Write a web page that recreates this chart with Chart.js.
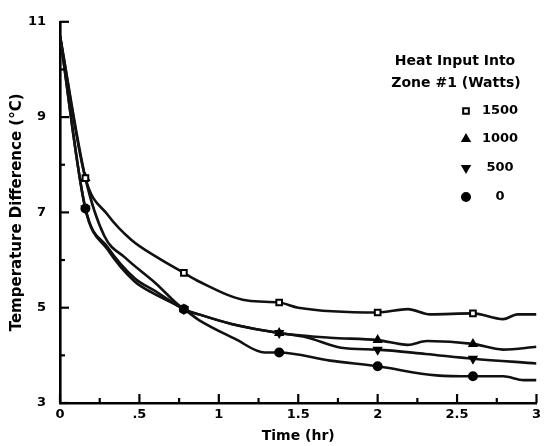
<!DOCTYPE html>
<html>
<head>
<meta charset="utf-8">
<script src="https://cdn.jsdelivr.net/npm/chart.js@4/dist/chart.umd.min.js"></script>
<style>
html,body{margin:0;padding:0;background:#fff;}
#wrap{width:545px;height:446px;position:relative;}
</style>
</head>
<body>
<div id="wrap"><canvas id="c" width="545" height="446"></canvas></div>
<script>
// ---- data ----
const seriesLabels = ['1500', '1000', '500', '0'];
const legendTitle = ['Heat Input Into', 'Zone #1 (Watts)'];
const xTitle = 'Time (hr)';
const yTitle = 'Temperature Difference (\u00B0C)';

const times1500 = [0, 0.16, 0.3, 0.45, 0.61, 0.78, 0.875, 1.18, 1.38, 1.5, 2.0, 2.19, 2.33, 2.6, 2.79, 2.88, 3.0];
const temps1500 = [10.7, 7.72, 6.95, 6.42, 6.06, 5.73, 5.55, 5.15, 5.11, 5.0, 4.9, 4.97, 4.86, 4.88, 4.76, 4.86, 4.86];

const times1000 = [0, 0.16, 0.28, 0.41, 0.6, 0.78, 0.875, 1.08, 1.38, 1.7, 2.0, 2.19, 2.31, 2.6, 2.79, 3.0];
const temps1000 = [10.7, 7.72, 6.5, 6.05, 5.52, 4.97, 4.86, 4.66, 4.47, 4.37, 4.32, 4.22, 4.3, 4.24, 4.12, 4.18];

const times500 = [0, 0.16, 0.3, 0.47, 0.6, 0.78, 0.875, 1.08, 1.38, 1.55, 1.77, 2.0, 2.3, 2.6, 3.0];
const temps500 = [10.7, 7.08, 6.27, 5.62, 5.35, 4.97, 4.86, 4.66, 4.47, 4.38, 4.16, 4.12, 4.03, 3.93, 3.83];

const times0 = [0, 0.16, 0.3, 0.47, 0.6, 0.78, 0.875, 1.1, 1.29, 1.38, 1.7, 2.0, 2.37, 2.6, 2.79, 2.92, 3.0];
const temps0 = [10.7, 7.08, 6.22, 5.55, 5.28, 4.97, 4.74, 4.35, 4.06, 4.06, 3.89, 3.77, 3.58, 3.56, 3.56, 3.48, 3.48];

const markerTimes = [0.16, 0.78, 1.38, 2.0, 2.6];
const xTickValues = [0, 0.5, 1, 1.5, 2, 2.5, 3];
const xTickLabels = ['0', '.5', '1', '1.5', '2', '2.5', '3'];
const xMinorValues = [0.25, 0.75, 1.25, 1.75, 2.25, 2.75];
const yTickValues = [3, 5, 7, 9, 11];
const yTickLabels = ['3', '5', '7', '9', '11'];
const yMinorValues = [4, 6, 8, 10];

const pointStyles = ['rect', 'triangle', 'triangle', 'circle'];
const pointRotations = [0, 0, 180, 0];
const pointFills = ['#fff', '#000', '#000', '#000'];

// ---- build chart ----
const allTimes = [times1500, times1000, times500, times0];
const allTemps = [temps1500, temps1000, temps500, temps0];
const FONT = "'DejaVu Sans', 'Liberation Sans', sans-serif";

const datasets = seriesLabels.map((lab, i) => ({
  label: lab,
  data: allTimes[i].map((t, j) => ({x: t, y: allTemps[i][j]})),
  borderColor: '#111',
  borderWidth: 2.6,
  backgroundColor: pointFills[i],
  pointBorderColor: '#000',
  pointBorderWidth: 2,
  pointBackgroundColor: pointFills[i],
  pointStyle: pointStyles[i],
  pointRotation: pointRotations[i],
  pointRadius: ctx => (ctx.raw && markerTimes.includes(ctx.raw.x)) ? 4 : 0,
  pointHoverRadius: 0,
  cubicInterpolationMode: 'monotone',
  fill: false
}));

const tickPlugin = {
  id: 'inwardTicks',
  afterDraw(chart) {
    const ctx = chart.ctx;
    const xs = chart.scales.x, ys = chart.scales.y;
    const a = chart.chartArea;
    ctx.save();
    ctx.strokeStyle = '#000';
    ctx.lineWidth = 2.2;
    ctx.lineCap = 'butt';
    yTickValues.forEach(v => {
      const p = ys.getPixelForValue(v);
      ctx.beginPath(); ctx.moveTo(a.left, p); ctx.lineTo(a.left + 9, p); ctx.stroke();
    });
    yMinorValues.forEach(v => {
      const p = ys.getPixelForValue(v);
      ctx.beginPath(); ctx.moveTo(a.left, p); ctx.lineTo(a.left + 5, p); ctx.stroke();
    });
    xTickValues.forEach(v => {
      const p = xs.getPixelForValue(v);
      ctx.beginPath(); ctx.moveTo(p, a.bottom); ctx.lineTo(p, a.bottom - 9); ctx.stroke();
    });
    xMinorValues.forEach(v => {
      const p = xs.getPixelForValue(v);
      ctx.beginPath(); ctx.moveTo(p, a.bottom); ctx.lineTo(p, a.bottom - 5); ctx.stroke();
    });
    ctx.restore();
  }
};

const legendPlugin = {
  id: 'customLegend',
  afterDraw(chart) {
    const ctx = chart.ctx;
    ctx.save();
    ctx.fillStyle = '#000';
    ctx.textAlign = 'center';
    ctx.textBaseline = 'middle';
    ctx.font = 'bold 14px ' + FONT;
    ctx.fillText(legendTitle[0], 455, 61);
    ctx.fillText(legendTitle[1], 456, 83);
    const rows = [111, 139, 168, 197];
    chart.data.datasets.forEach((ds, i) => {
      ctx.strokeStyle = '#000';
      ctx.fillStyle = pointFills[i];
      ctx.lineWidth = 2;
      Chart.helpers.drawPoint(ctx, {pointStyle: pointStyles[i], rotation: pointRotations[i], radius: 4, borderWidth: 2}, 466, rows[i]);
      ctx.fillStyle = '#000';
      ctx.font = 'bold 13px ' + FONT;
      ctx.fillText(ds.label, 500, rows[i]);
    });
    ctx.restore();
  }
};

new Chart(document.getElementById('c'), {
  type: 'line',
  data: {datasets},
  options: {
    responsive: false,
    animation: false,
    events: [],
    layout: {padding: {left: 0, right: 5, top: 15, bottom: 0}},
    plugins: {legend: {display: false}, tooltip: {enabled: false}},
    scales: {
      x: {
        type: 'linear', min: 0, max: 3,
        afterFit: s => { s.height = 43; },
        afterBuildTicks: s => { s.ticks = xTickValues.map(v => ({value: v})); },
        ticks: {
          autoSkip: false, maxRotation: 0, padding: 4, color: '#000',
          font: {family: FONT, size: 13, weight: 'bold'},
          callback: v => { const k = xTickValues.indexOf(v); return k >= 0 ? xTickLabels[k] : ''; }
        },
        grid: {display: false, drawTicks: false},
        border: {display: true, color: '#000', width: 2.6},
        title: {display: true, text: xTitle, color: '#000', padding: {top: 2, bottom: 1},
                font: {family: FONT, size: 14, weight: 'bold'}}
      },
      y: {
        type: 'linear', min: 3, max: 11,
        afterFit: s => { s.width = 60; },
        afterBuildTicks: s => { s.ticks = yTickValues.map(v => ({value: v})); },
        ticks: {
          autoSkip: false, padding: 14, color: '#000',
          font: {family: FONT, size: 13, weight: 'bold'},
          callback: v => { const k = yTickValues.indexOf(v); return k >= 0 ? yTickLabels[k] : ''; }
        },
        grid: {display: false, drawTicks: false},
        border: {display: true, color: '#000', width: 2.6},
        title: {display: true, text: yTitle, color: '#000', padding: {top: 8, bottom: 0},
                font: {family: FONT, size: 15, weight: 'bold'}}
      }
    }
  },
  plugins: [tickPlugin, legendPlugin]
});
</script>
</body>
</html>
